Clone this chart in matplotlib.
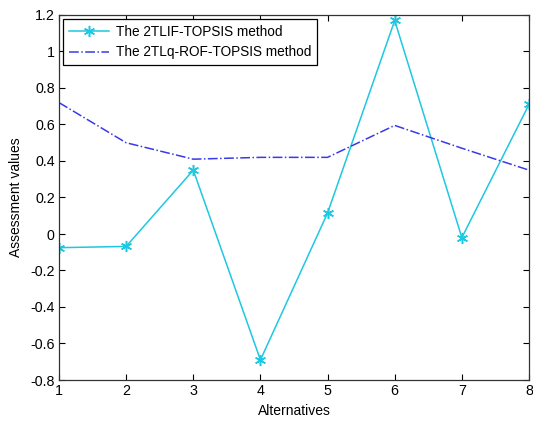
import matplotlib
matplotlib.use('Agg')
import matplotlib.pyplot as plt

plt.rcParams['font.family'] = ['Liberation Sans', 'DejaVu Sans']

alternatives = [1, 2, 3, 4, 5, 6, 7, 8]
tlif_topsis = [-0.075, -0.068, 0.35, -0.69, 0.115, 1.17, -0.02, 0.71]
tlq_rof_topsis = [0.72, 0.50, 0.41, 0.42, 0.42, 0.595, 0.47, 0.35]

fig = plt.figure(figsize=(5.33, 4.23), dpi=100)
ax = fig.add_axes([59 / 533, 1 - 380 / 423, 470 / 533, 365 / 423])

# asterisk marker like matlab '*'
ax.plot(alternatives, tlif_topsis, color='#1ec8e0', lw=1.1, marker=(6, 2, 0), ms=8,
        mew=1.1, label='The 2TLIF-TOPSIS method')
ax.plot(alternatives, tlq_rof_topsis, color='#3a3ae6', lw=1.1, ls='-.',
        label='The 2TLq-ROF-TOPSIS method')

ax.set_xlim(1, 8)
ax.set_ylim(-0.8, 1.2)
ax.set_xticks(alternatives)
ax.set_yticks([-0.8, -0.6, -0.4, -0.2, 0, 0.2, 0.4, 0.6, 0.8, 1, 1.2])
ax.set_yticklabels(['-0.8', '-0.6', '-0.4', '-0.2', '0', '0.2', '0.4', '0.6', '0.8', '1', '1.2'])
ax.tick_params(direction='in', top=True, right=True, labelsize=10.3, length=4, width=0.8, pad=3)
for s in ax.spines.values():
    s.set_linewidth(0.9)
    s.set_color('#333333')

ax.set_xlabel('Alternatives', fontsize=10, labelpad=4)
ax.set_ylabel('Assessment values', fontsize=10, labelpad=5)

leg = ax.legend(loc='upper left', fontsize=9.8, fancybox=False, framealpha=1,
                edgecolor='black', borderaxespad=0.3, handlelength=3.0,
                borderpad=0.4, labelspacing=0.5, handletextpad=0.5)
leg.get_frame().set_linewidth(0.9)

fig.savefig('out.png', dpi=100)
